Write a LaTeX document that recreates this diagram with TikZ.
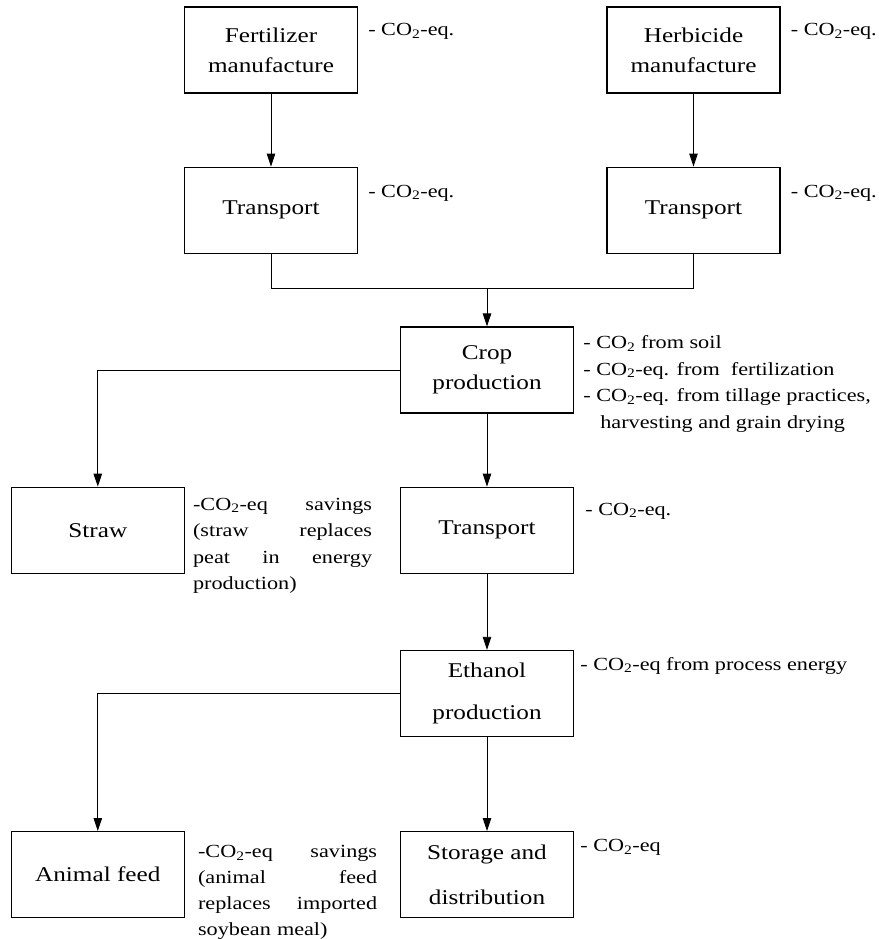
\documentclass[tikz,border=0pt]{standalone}
\usepackage{fontspec}
\setmainfont[FakeStretch=1.2]{Liberation Serif}
\usetikzlibrary{arrows.meta,positioning}
\newcommand{\cotwo}{CO\textsubscript{2}}

\begin{document}
\begin{tikzpicture}[x=1pt,y=1pt,
    box/.style={draw,line width=1.2pt,minimum width=173pt,minimum height=86pt,align=center,inner sep=0pt,font=\fontsize{21}{30}\selectfont},
    lab/.style={inner sep=0pt,align=left,font=\fontsize{18.5}{26.6}\selectfont},
    wire/.style={line width=0.9pt},
    arr/.style={wire,-{Triangle[length=13pt,width=8.5pt]}}]
    \useasboundingbox (0,0) rectangle (878,-939);
    \node[box] (fert) at (271,-50) {Fertilizer\\manufacture};
    \node[box] (herb) at (693.5,-50) {Herbicide\\manufacture};
    \node[box,below=73pt of fert] (trL) {Transport};
    \node[box,below=73pt of herb] (trR) {Transport};
    \node[box] (crop) at (487,-370) {Crop\\production};
    \node[box,below=73pt of crop] (trM) {Transport};
    \node[box,left=215pt of trM] (straw) {Straw};
    \node[box,below=76pt of trM] (eth) {Ethanol\\[12pt]production};
    \node[box,below=94pt of eth] (store) {Storage and\\[15pt]distribution};
    \node[box,left=215pt of store] (feed) {Animal feed};

    \node[lab,below right=17pt and 10pt of fert.north east] (fertco) {- \cotwo-eq.};
    \node[lab,below right=17pt and 10pt of herb.north east] (herbco) {- \cotwo-eq.};
    \node[lab,below right=18pt and 10pt of trL.north east] (trLco) {- \cotwo-eq.};
    \node[lab,below right=18pt and 10pt of trR.north east] (trRco) {- \cotwo-eq.};
    \node[lab,below right=9pt and 9pt of crop.north east] (cropco) {- \cotwo{} from soil\\- \cotwo-eq. from\ \ fertilization\\- \cotwo-eq. from tillage practices,\\\hspace*{17pt}harvesting and grain drying};
    \node[lab,below right=16pt and 11pt of trM.north east] (trMco) {- \cotwo-eq.};
    \node[lab,text width=179pt,below right=11pt and 8pt of straw.north east] (strawco) {-\cotwo-eq\hfill savings\\(straw\hfill replaces\\peat\hfill in\hfill energy\\production)};
    \node[lab,below right=7pt and 6pt of eth.north east] (ethco) {- \cotwo-eq from process energy};
    \node[lab,below right=8pt and 6pt of store.north east] (storeco) {- \cotwo-eq};
    \node[lab,text width=179pt,font=\fontsize{18.5}{26}\selectfont,below right=14pt and 13pt of feed.north east] (feedco) {-\cotwo-eq\hfill savings\\(animal\hfill feed\\replaces\hfill imported\\soybean meal)};

    \draw[arr] (fert) -- (trL);
    \draw[arr] (herb) -- (trR);
    \coordinate[above=38pt of crop.north] (join);
    \draw[wire] (trL.south) |- (join) -| (trR.south);
    \draw[arr] (join) -- (crop);
    \draw[arr] (crop.west) -| (straw.north);
    \draw[arr] (crop) -- (trM);
    \draw[arr] (trM) -- (eth);
    \draw[arr] (eth.west) -| (feed.north);
    \draw[arr] (eth) -- (store);
\end{tikzpicture}
\end{document}
